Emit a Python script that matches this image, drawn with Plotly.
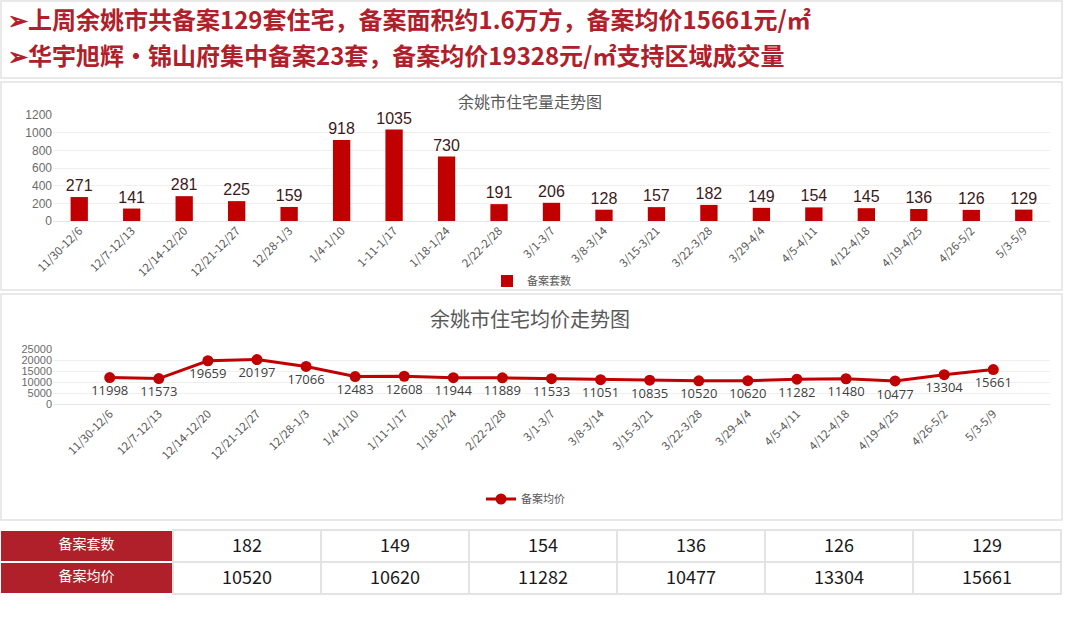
import plotly.graph_objects as go

# 周度数据
weeks_bar = ["11/30-12/6", "12/7-12/13", "12/14-12/20", "12/21-12/27", "12/28-1/3",
             "1/4-1/10", "1-11-1/17", "1/18-1/24", "2/22-2/28", "3/1-3/7", "3/8-3/14",
             "3/15-3/21", "3/22-3/28", "3/29-4/4", "4/5-4/11", "4/12-4/18",
             "4/19-4/25", "4/26-5/2", "5/3-5/9"]
weeks_price = ["11/30-12/6", "12/7-12/13", "12/14-12/20", "12/21-12/27", "12/28-1/3",
               "1/4-1/10", "1/11-1/17", "1/18-1/24", "2/22-2/28", "3/1-3/7", "3/8-3/14",
               "3/15-3/21", "3/22-3/28", "3/29-4/4", "4/5-4/11", "4/12-4/18",
               "4/19-4/25", "4/26-5/2", "5/3-5/9"]
units = [271, 141, 281, 225, 159, 918, 1035, 730, 191, 206, 128, 157, 182, 149,
         154, 145, 136, 126, 129]
prices = [11998, 11573, 19659, 20197, 17066, 12483, 12608, 11944, 11889, 11533,
          11051, 10835, 10520, 10620, 11282, 11480, 10477, 13304, 15661]

# 表格里用到的周（序号）
table_idx = [12, 13, 14, 16, 17, 18]

headline1 = "➢上周余姚市共备案129套住宅，备案面积约1.6万方，备案均价15661元/㎡"
headline2 = "➢华宇旭辉•锦山府集中备案23套，备案均价19328元/㎡支持区域成交量"

W, H = 1080, 622
RED = "#C00000"
HEAD_RED = "#B0202A"
GRAY = "#595959"
CJK = "Noto Sans CJK SC"


def px_x(v):
    return v / W


def px_y(v):
    return 1 - v / H


fig = go.Figure()

fig.add_trace(go.Bar(
    x=weeks_bar, y=units, name="备案套数", marker_color=RED, width=0.33,
    text=units, textposition="outside", cliponaxis=False, constraintext="none",
    textfont=dict(size=16, color="#3b1a1a", family="Liberation Sans"),
    xaxis="x", yaxis="y", legend="legend",
))

fig.add_trace(go.Scatter(
    x=weeks_price, y=prices, name="备案均价", mode="lines+markers+text",
    line=dict(color=RED, width=3), marker=dict(size=11, color=RED),
    text=prices, textposition="bottom center", cliponaxis=False,
    textfont=dict(size=13, color="#404040", family="Open Sans"),
    xaxis="x2", yaxis="y2", legend="legend2",
))

# 底部表格
fig.add_trace(go.Table(
    domain=dict(x=[0, px_x(1061)], y=[px_y(596), px_y(530)]),
    columnwidth=[173] + [148] * 6,
    header=dict(
        values=["备案套数"] + [str(units[i]) for i in table_idx],
        height=32, align="center",
        fill=dict(color=[HEAD_RED] + ["white"] * 6),
        font=dict(family=CJK, size=[14] + [18] * 6, color=["white"] + ["#1a1a1a"] * 6),
        line=dict(color=["white"] + ["#e3e3e3"] * 6, width=1.5),
    ),
    cells=dict(
        values=[["备案均价"]] + [[str(prices[i])] for i in table_idx],
        height=32, align="center",
        fill=dict(color=[HEAD_RED] + ["white"] * 6),
        font=dict(family=CJK, size=[14] + [18] * 6, color=["white"] + ["#1a1a1a"] * 6),
        line=dict(color=["white"] + ["#e3e3e3"] * 6, width=1.5),
    ),
))

axis_x = dict(tickangle=-45, tickfont=dict(size=11.5, color=GRAY, family=CJK),
              showgrid=False, showline=False, ticks="", automargin=False,
              domain=[px_x(53), px_x(1050)])
axis_y = dict(gridcolor="#efefef", zeroline=True, zerolinecolor="#e6e6e6",
              showline=False, ticks="", automargin=False, exponentformat="none",
              tickformat="d")

fig.update_layout(
    template="none",
    width=W, height=H, margin=dict(l=0, r=0, t=0, b=0, autoexpand=False),
    paper_bgcolor="white", plot_bgcolor="white",
    font=dict(family=CJK, color=GRAY),
    xaxis=dict(axis_x, anchor="y"),
    yaxis=dict(axis_y, domain=[px_y(221), px_y(115)], range=[0, 1200], dtick=200, anchor="x",
               tickfont=dict(size=12, color="#6b6b6b", family="Liberation Sans")),
    xaxis2=dict(axis_x, anchor="y2"),
    yaxis2=dict(axis_y, domain=[px_y(404), px_y(349)], range=[0, 25000], dtick=5000, anchor="x2",
                tickfont=dict(size=11, color="#6b6b6b", family="Liberation Sans")),
    legend=dict(x=px_x(487), y=px_y(281), xanchor="left", yanchor="middle",
                orientation="h", font=dict(size=11, color=GRAY, family=CJK),
                itemwidth=30, bgcolor="rgba(0,0,0,0)"),
    legend2=dict(x=px_x(481), y=px_y(499), xanchor="left", yanchor="middle",
                 orientation="h", font=dict(size=11, color=GRAY, family=CJK),
                 itemwidth=30, bgcolor="rgba(0,0,0,0)"),
    showlegend=True,
)

# 面板边框
panels = [(1, 1, 1062, 78), (1, 82, 1062, 290), (1, 294, 1062, 520)]
for x0, y0, x1, y1 in panels:
    fig.add_shape(type="rect", xref="paper", yref="paper",
                  x0=px_x(x0), x1=px_x(x1), y0=px_y(y1), y1=px_y(y0),
                  line=dict(color="#e2e2e2", width=1.5), fillcolor="rgba(0,0,0,0)",
                  layer="below")

# 标题与要点
fig.add_annotation(x=px_x(6), y=px_y(18), xref="paper", yref="paper", text="<b>" + headline1 + "</b>",
                   showarrow=False, xanchor="left", yanchor="middle",
                   font=dict(size=24, color=HEAD_RED, family=CJK))
fig.add_annotation(x=px_x(6), y=px_y(54), xref="paper", yref="paper", text="<b>" + headline2 + "</b>",
                   showarrow=False, xanchor="left", yanchor="middle",
                   font=dict(size=24, color=HEAD_RED, family=CJK))
fig.add_annotation(x=px_x(530), y=px_y(101), xref="paper", yref="paper", text="余姚市住宅量走势图",
                   showarrow=False, xanchor="center", yanchor="middle",
                   font=dict(size=16, color=GRAY, family=CJK))
fig.add_annotation(x=px_x(530), y=px_y(318), xref="paper", yref="paper", text="余姚市住宅均价走势图",
                   showarrow=False, xanchor="center", yanchor="middle",
                   font=dict(size=20, color=GRAY, family=CJK))

fig.write_html("out.html", config={"displayModeBar": False},
               post_script="document.body.style.margin='0';")
